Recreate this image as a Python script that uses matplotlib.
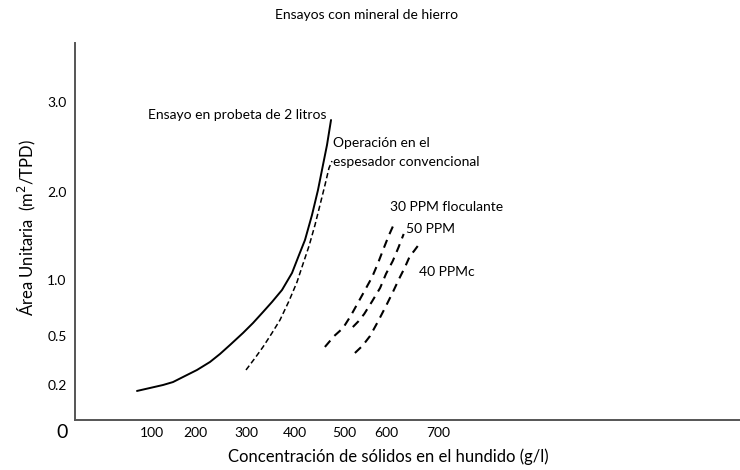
import numpy as np
import matplotlib
matplotlib.use("Agg")
import matplotlib.pyplot as plt

plt.rcParams['font.family'] = ['Lato', 'DejaVu Sans']

# ---------------- data ----------------
x_ticks = [100, 200, 300, 400, 500, 600, 700]
x_tick_labels = ["100", "200", "300", "400", "500", "600", "700"]
y_ticks = [0.2, 0.5, 1.0, 2.0, 3.0]
y_tick_labels = ["0.2", "0.5", "1.0", "2.0", "3.0"]

# Ensayo en probeta de 2 litros (solid)
probeta_x = [80.5, 97.4, 125.6, 148.8, 172.1, 203.9, 229.4, 249, 268.6, 294.1, 314.3,
             334.7, 353.1, 373.5, 393.9, 408.2, 420.4, 434.7, 446.9, 457.1, 465.3, 473.5]
probeta_y = [0.166, 0.183, 0.2, 0.218, 0.249, 0.292, 0.341, 0.390, 0.445, 0.527, 0.616,
             0.714, 0.804, 0.911, 1.080, 1.284, 1.455, 1.739, 2.022, 2.30, 2.522, 2.80]

# Operación en el espesador convencional (fine dashes)
espesador_x = [300, 318.4, 334.7, 353.1, 369.4, 387.8, 404.1, 416.3, 428.6, 440.8,
               451, 461.2, 469.4, 475.5]
espesador_y = [0.292, 0.365, 0.433, 0.527, 0.643, 0.813, 0.982, 1.182, 1.386, 1.625,
               1.852, 2.078, 2.267, 2.344]

# 30 PPM floculante
ppm30_x = [461, 480, 498, 516, 533, 550, 567, 580, 593, 605, 617]
ppm30_y = [0.433, 0.50, 0.571, 0.68, 0.795, 0.91, 1.034, 1.18, 1.341, 1.50, 1.659]

# 50 PPM
ppm50_x = [521, 534, 548, 567, 586, 600, 613, 624, 634]
ppm50_y = [0.58, 0.63, 0.696, 0.81, 0.929, 1.07, 1.216, 1.37, 1.523]

# 40 PPMc
ppm40_x = [526, 544, 562, 581, 600, 613, 625, 636, 646, 654, 661]
ppm40_y = [0.396, 0.44, 0.5, 0.63, 0.768, 0.89, 1.011, 1.14, 1.273, 1.33, 1.386]

# ---------------- hand-drawn (non-uniform) axis scales ----------------
XB = np.array([0, 100, 200, 300, 400, 500, 600, 700, 2000], float)
XP = np.array([0, 77, 120, 171, 220, 269, 311, 363, 363 + 1300 * 0.478])
YB = np.array([0, 0.2, 0.5, 1.0, 2.0, 3.0, 5.0])
YP = np.array([0, 35, 84, 140, 228, 318, 498], float)

def xf(v): return np.interp(v, XB, XP)
def xi(p): return np.interp(p, XP, XB)
def yf(v): return np.interp(v, YB, YP)
def yi(p): return np.interp(p, YP, YB)

W, H = 740, 470
fig = plt.figure(figsize=(W / 100, H / 100), dpi=100)
ax = fig.add_axes([75 / W, 50 / H, 665 / W, 377 / H])
ax.set_xscale('function', functions=(xf, xi))
ax.set_yscale('function', functions=(yf, yi))
ax.set_xlim(0, xi(665))
ax.set_ylim(0, yi(377))

for s in ['top', 'right']:
    ax.spines[s].set_visible(False)
for s in ['left', 'bottom']:
    ax.spines[s].set_color('#555555')
    ax.spines[s].set_linewidth(1.4)

ax.set_xticks(x_ticks)
ax.set_xticklabels(x_tick_labels)
ax.set_yticks(y_ticks)
ax.set_yticklabels(y_tick_labels)
ax.minorticks_off()
ax.tick_params(axis='both', length=0, labelsize=10, colors='black')
ax.tick_params(axis='x', pad=5)
ax.tick_params(axis='y', pad=6)

ax.plot(probeta_x, probeta_y, color='black', lw=1.4, solid_capstyle='round',
        solid_joinstyle='round')
ax.plot(espesador_x, espesador_y, color='black', lw=1.1, linestyle=(0, (3.5, 2)))
for xs, ys in [(ppm30_x, ppm30_y), (ppm50_x, ppm50_y), (ppm40_x, ppm40_y)]:
    ax.plot(xs, ys, color='black', lw=1.5, linestyle=(0, (4, 3)))

def ftext(px, py, s, **kw):
    fig.text(px / W, 1 - py / H, s, **kw)

fs = 10
ftext(367, 15, "Ensayos con mineral de hierro", ha='center', va='center', fontsize=fs)
ftext(326, 115, "Ensayo en probeta de 2 litros", ha='right', va='center', fontsize=fs)
ftext(333, 143, "Operación en el", ha='left', va='center', fontsize=fs)
ftext(333, 162, "espesador convencional", ha='left', va='center', fontsize=fs)
ftext(390, 207, "30 PPM floculante", ha='left', va='center', fontsize=fs)
ftext(406, 229, "50 PPM", ha='left', va='center', fontsize=fs)
ftext(419, 272, "40 PPMc", ha='left', va='center', fontsize=fs)
ftext(62, 432, "0", ha='center', va='center', fontsize=14)
ftext(388, 457, "Concentración de sólidos en el hundido (g/l)", ha='center', va='center', fontsize=12)
ftext(27, 228, "Área Unitaria  (m$^2$/TPD)", ha='center', va='center', rotation=90, fontsize=12)

fig.savefig("out.png", dpi=100)
